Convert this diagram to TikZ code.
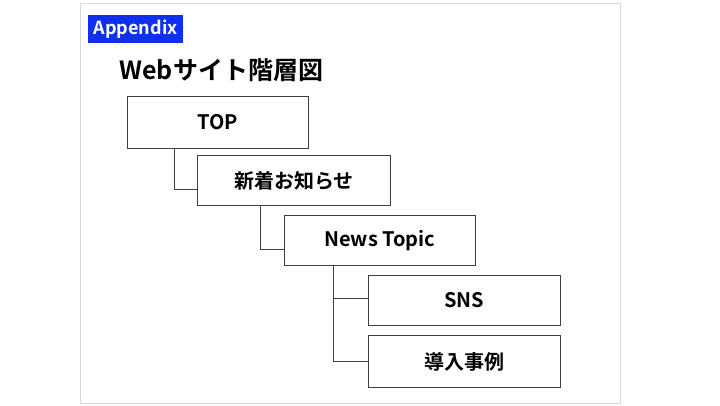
\documentclass[tikz,border=0pt]{standalone}
\usepackage{fontspec}
\setmainfont{Noto Sans CJK JP}[BoldFont={* Bold}]
\definecolor{appblue}{RGB}{16,48,240}
\begin{document}
\begin{tikzpicture}[x=1pt,y=-1pt,
  box/.style={draw=black!75,line width=0.8pt,fill=white,anchor=north west,inner sep=0pt,font=\bfseries\fontsize{20}{20}\selectfont},
  link/.style={draw=black!75,line width=0.8pt}]
\useasboundingbox (0,0) rectangle (720,405);
\draw[black!15,line width=0.8pt] (80,3) rectangle (620,403);
\node[fill=appblue,text=white,anchor=north west,minimum width=95pt,minimum height=28pt,inner sep=0pt,font=\bfseries\fontsize{18}{18}\selectfont] (app) at (88,15) {Appendix};
\node[anchor=west,font=\bfseries\fontsize{25}{25}\selectfont] (title) at (116,70) {Webサイト階層図};
\node[box,minimum width=181pt,minimum height=52pt] (top) at (127,96) {TOP};
\node[box,minimum width=193pt,minimum height=50pt] (news) at (197,155) {新着お知らせ};
\node[box,minimum width=191pt,minimum height=50pt] (topic) at (284,215) {News Topic};
\node[box,minimum width=192pt,minimum height=50pt] (sns) at (368,275) {SNS};
\node[box,minimum width=192pt,minimum height=52pt] (case) at (368,335) {導入事例};
\draw[link] (top.south west) ++(47,0) |- (news.west |- 0,189);
\draw[link] (news.south west) ++(63,0) |- (topic.west |- 0,249);
\draw[link] (topic.south west) ++(49,0) |- (sns.west |- 0,298);
\draw[link] (topic.south west) ++(49,0) |- (case.west |- 0,361);
\end{tikzpicture}
\end{document}
